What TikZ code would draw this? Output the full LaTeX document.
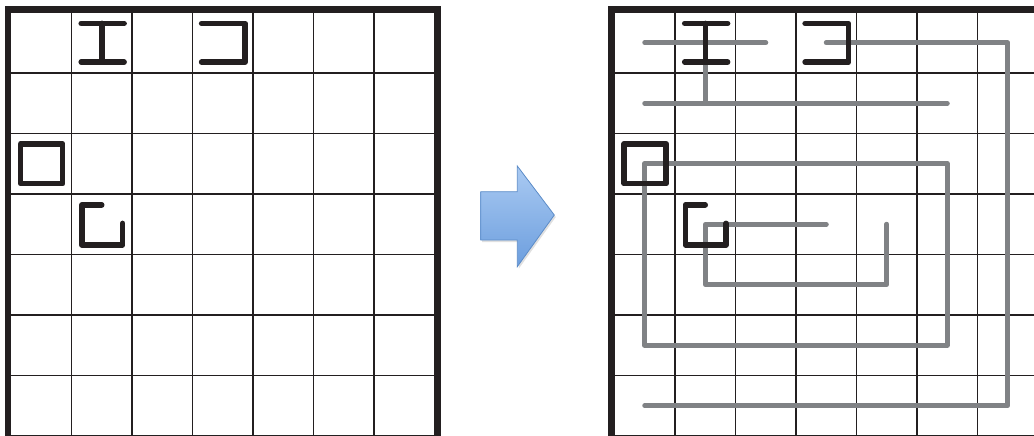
\documentclass[tikz,border=0pt]{standalone}
\definecolor{ink}{RGB}{35,31,32}
\definecolor{route}{RGB}{128,130,133}
\definecolor{arrowtop}{RGB}{170,202,242}
\definecolor{arrowbot}{RGB}{108,158,222}
\definecolor{arrowedge}{RGB}{92,140,200}
\begin{document}
\begin{tikzpicture}[x=1pt,y=-1pt,
  gridline/.style={ink, line width=1.5pt},
  frame/.style={ink, line width=6.5pt},
  glyph/.style={ink, line width=5.5pt, line cap=round, line join=round},
  routeline/.style={route, line width=5pt, line cap=round, line join=round},
  bigarrow/.style={top color=arrowtop, bottom color=arrowbot, draw=arrowedge, line width=0.8pt, line join=miter}]
\useasboundingbox (0,0) rectangle (1034,436);
% ---------- two grids ----------
\foreach \ox in {11,614.5}{
  \begin{scope}[shift={(\ox,12.5)}, x=60.5pt, y=-60.5pt]
    \foreach \k in {1,...,7}{
      \draw[gridline] (\k,0) -- (\k,7);
      \draw[gridline] (0,\k) -- (7,\k);
    }
    \draw[frame] (-0.05,7.05) -- (-0.05,-0.05) -- (7.05,-0.05) -- (7.05,7.05);
  \end{scope}
}
% ---------- routes on the right grid ----------
\begin{scope}[shift={(614.5,12.5)}, x=60.5pt, y=-60.5pt]
  \draw[routeline] (0.5,0.5) -- (2.5,0.5);
  \draw[routeline] (0.5,1.5) -- (5.5,1.5);
  \draw[routeline] (1.5,0.5) -- (1.5,1.5);
  \draw[routeline] (3.5,0.5) -- (6.5,0.5) -- (6.5,6.5) -- (0.5,6.5);
  \draw[routeline] (0.5,2.5) -- (5.5,2.5) -- (5.5,5.5) -- (0.5,5.5) -- cycle;
  \draw[routeline] (3.5,3.5) -- (1.5,3.5) -- (1.5,4.5) -- (4.5,4.5) -- (4.5,3.5);
\end{scope}
% ---------- glyphs on both grids ----------
\foreach \ox in {11,614.5}{
  \begin{scope}[shift={(\ox,12.5)}, x=60.5pt, y=-60.5pt]
    \draw[glyph] (1.16,0.18) -- (1.87,0.18);
    \draw[glyph] (1.16,0.82) -- (1.87,0.82);
    \draw[glyph] (1.5,0.18) -- (1.5,0.82);
    \draw[glyph] (3.15,0.18) -- (3.87,0.18) -- (3.87,0.82) -- (3.15,0.82);
    \draw[glyph] (0.16,2.17) rectangle (0.855,2.83);
    \draw[glyph] (1.5,3.18) -- (1.17,3.18) -- (1.17,3.84) -- (1.845,3.84) -- (1.845,3.485);
  \end{scope}
}
% ---------- arrow ----------
\fill[black, opacity=0.12] (482.2,193.7) -- (518.8,193.7) -- (518.8,168) -- (555.8,217) -- (518.8,268.7) -- (518.8,242) -- (482.2,242) -- cycle;
\path[bigarrow] (480.7,191.7) -- (517.3,191.7) -- (517.3,166) -- (554.3,215) -- (517.3,266.7) -- (517.3,240) -- (480.7,240) -- cycle;
\end{tikzpicture}
\end{document}
